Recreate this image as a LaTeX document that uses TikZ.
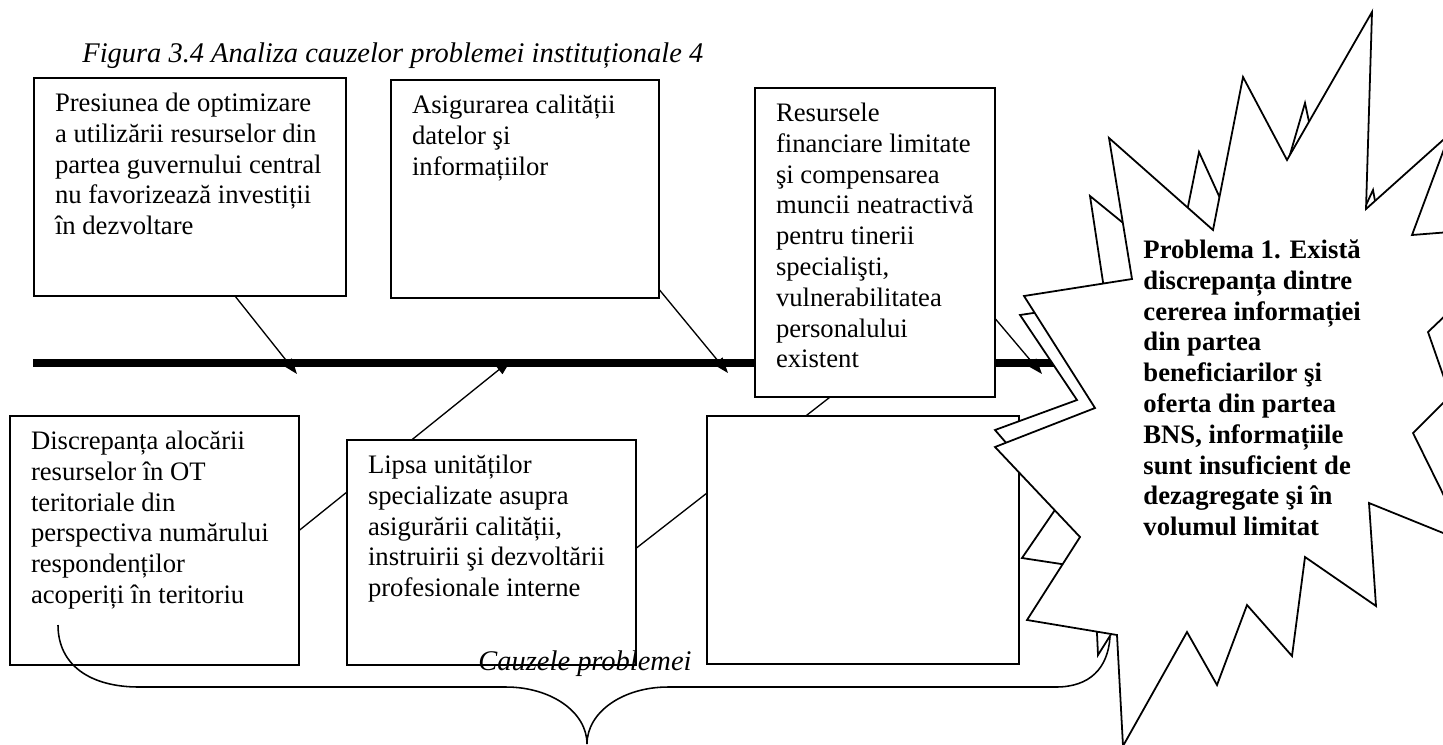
\documentclass[tikz,border=0pt]{standalone}
\usepackage{fontspec}
\setmainfont{Liberation Serif}
\usepackage{tikz}
\usetikzlibrary{arrows.meta}
\newcommand{\causefont}{\fontsize{12}{13.86}\selectfont}
\newcommand{\notefont}{\fontsize{12.8}{14.7}\selectfont\itshape}

\begin{document}
\begin{tikzpicture}[
    x=0.45pt, y=-0.45pt,
    cause/.style={draw, fill=white, line width=0.9pt, inner sep=0pt, anchor=north west},
    causetext/.style={anchor=north west, align=left, inner xsep=9.7pt, inner ysep=5.6pt, font=\causefont},
    spine/.style={line width=3.6pt},
    bone/.style={line width=0.6pt, -{Triangle[length=7pt, width=5pt]}},
    burst/.style={draw, fill=white, line width=0.8pt, line join=miter},
    brace/.style={line width=0.7pt},
]
\useasboundingbox (0,0) rectangle (1443,744);
\clip (0,0) rectangle (1443,744);

% Title
\node[anchor=base west, inner sep=0pt, font=\notefont] (title) at (82,62) {Figura 3.4 Analiza cauzelor problemei instituționale 4};

% Spine
\coordinate (tail) at (33,362.5);
\coordinate (head) at (1120,362.5);
\draw[spine] (tail) -- (head);

% Bones (start hidden in the boxes, tip on the spine)
\foreach \sa/\sx/\sy/\ta/\tx/\ty in {
  s1/200/252/t1/297/374,
  s2/620/242/t2/728/373,
  s3/960/277/t3/1042/374,
  s4/250/570/t4/511/360,
  s5/580/592/t5/875/362
}{
  \coordinate (\sa) at (\sx,\sy);
  \coordinate (\ta) at (\tx,\ty);
  \draw[bone] (\sa) -- (\ta);
}

% Cause boxes
\foreach \name/\bx/\by/\bw/\bh in {
  cause1/33/77/312/218,
  cause2/390/79/268/218,
  cause3/754/87/240/309,
  cause4/9/415/289/249,
  cause5/346/439/289/225,
  cause6/706/415/312/248
}{
  \node[cause, minimum width=\bw*0.45pt, minimum height=\bh*0.45pt] (\name) at (\bx,\by) {};
}

% Box texts
\node[causetext] (text1) at (cause1.north west) {\strut Presiunea de optimizare\\ a utilizării resurselor din\\ partea guvernului central\\ nu favorizează investiții\\ în dezvoltare};
\node[causetext] (text2) at (cause2.north west) {\strut Asigurarea calității\\ datelor şi\\ informațiilor};
\node[causetext] (text3) at (cause3.north west) {\strut Resursele\\ financiare limitate\\ şi compensarea\\ muncii neatractivă\\ pentru tinerii\\ specialişti,\\ vulnerabilitatea\\ personalului\\ existent};
\node[causetext] (text4) at (cause4.north west) {\strut Discrepanța alocării\\ resurselor în OT\\ teritoriale din\\ perspectiva numărului\\ respondenților\\ acoperiți în teritoriu};
\node[causetext] (text5) at (cause5.north west) {\strut Lipsa unităților\\ specializate asupra\\ asigurării calității,\\ instruirii şi dezvoltării\\ profesionale interne};

% Brace under the causes
\draw[brace] (58,625) .. controls (58,665) and (90,687) .. (139,687) -- (506,687)
  .. controls (551,687) and (587,712) .. (587,744)
  .. controls (587,712) and (623,687) .. (668,687) -- (1056,687)
  .. controls (1090,687) and (1108,668) .. (1110,637);
\node[anchor=base, inner sep=0pt, font=\notefont] (causes) at (585,670) {Cauzele problemei};

% Problem burst: copy behind, main shape, edge of the next one
\draw[burst] (1020,315) -- (1106,302) -- (1090,196) -- (1176,266) -- (1199,152) -- (1255,275)
  -- (1305,103) -- (1339,263) -- (1373,190) -- (1390,283) -- (1500,300) -- (1500,500)
  -- (1360,490) -- (1300,545) -- (1245,590) -- (1180,610) -- (1125,612) -- (1098,655)
  -- (1094,569) -- (1022,558) -- (1059,504) -- (995,430) -- (1077,400) -- cycle;
\draw[burst] (1024,296) -- (1132,279) -- (1109,138) -- (1213,230) -- (1243,77) -- (1287,160)
  -- (1372,12) -- (1366,209) -- (1500,89) -- (1500,556) -- (1369,503) -- (1376,606)
  -- (1305,557) -- (1292,656) -- (1247,605) -- (1217,685) -- (1187,632) -- (1123,746)
  -- (1117,635) -- (1027,620) -- (1080,537) -- (995,447) -- (1095,408) -- cycle;
\foreach \ux/\uy/\px/\py/\lx/\ly in {
  1450/133/1412/235/1450/232,
  1450/311/1428/332/1450/395,
  1450/396/1413/433/1450/508
}{
  \draw[burst] (\ux,\uy) -- (\px,\py) -- (\lx,\ly);
}

\node[anchor=north west, align=left, inner sep=0pt, font=\causefont\bfseries] (problem) at (1143,236.5)
  {\strut Problema 1. Există\\ discrepanța dintre\\ cererea informației\\ din partea\\ beneficiarilor şi\\ oferta din partea\\ BNS, informațiile\\ sunt insuficient de\\ dezagregate şi în\\ volumul limitat};

\end{tikzpicture}
\end{document}
